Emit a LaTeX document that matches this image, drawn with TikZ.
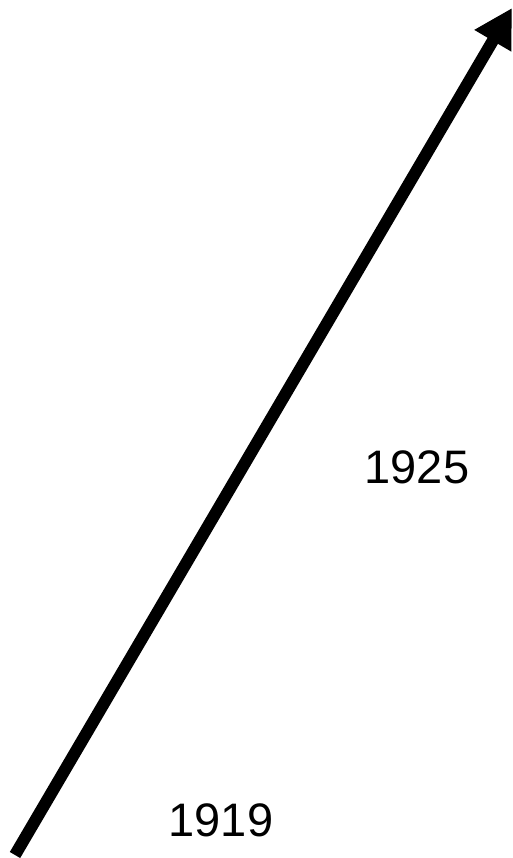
\documentclass[tikz,border=0pt]{standalone}
\usepackage{fontspec}
\setmainfont{Liberation Sans}
\usetikzlibrary{arrows.meta}
\begin{document}
\begin{tikzpicture}[x=1pt,y=1pt,
  yearlabel/.style={font=\fontsize{47}{56}\selectfont, inner sep=0pt, anchor=center},
  timeline/.style={line width=12pt, -{Triangle[length=38pt,width=40pt]}}]
\useasboundingbox (0,0) rectangle (512,858);
\coordinate (start) at (15,3);
\coordinate (tip) at (512,850);
\draw[timeline] (start) -- (tip);
\node[yearlabel] (y1925) at (417,391) {1925};
\node[yearlabel] (y1919) at (221,38) {1919};
\end{tikzpicture}
\end{document}
